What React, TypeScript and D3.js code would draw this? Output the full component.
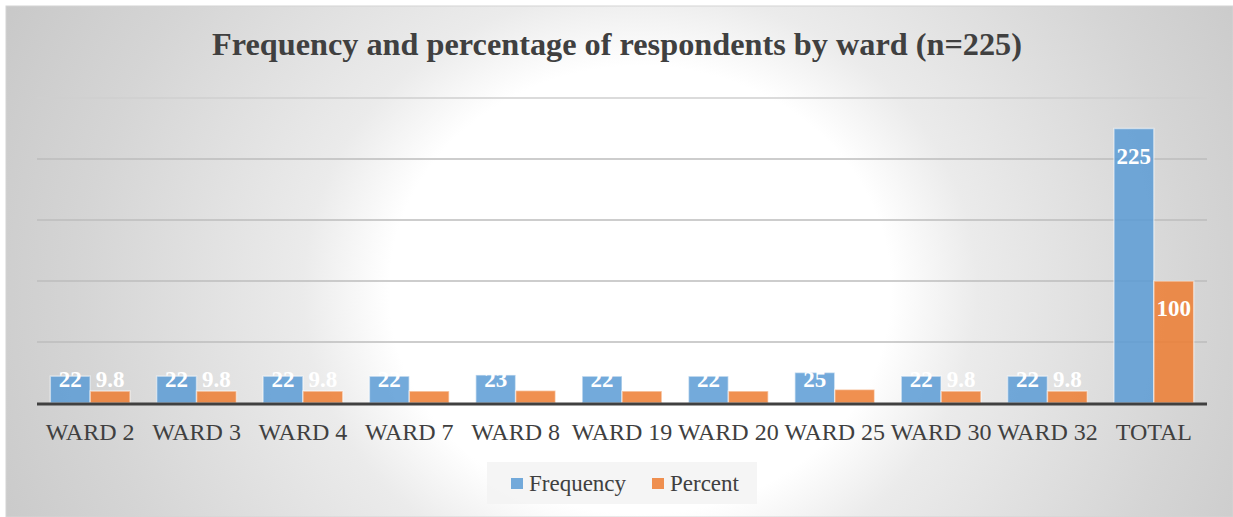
import React from "react";
import * as d3 from "d3";

const categories = ["WARD 2", "WARD 3", "WARD 4", "WARD 7", "WARD 8", "WARD 19", "WARD 20", "WARD 25", "WARD 30", "WARD 32", "TOTAL"];
const frequency = [22, 22, 22, 22, 23, 22, 22, 25, 22, 22, 225];
const percent = [9.8, 9.8, 9.8, 9.8, 10.2, 9.8, 9.8, 11.1, 9.8, 9.8, 100];
const seriesNames = ["Frequency", "Percent"];
const seriesColors = ["#5b9bd5", "#ed7d31"];
const yTicks = [0, 50, 100, 150, 200, 250];
const title = "Frequency and percentage of respondents by ward (n=225)";

const W = 1233;
const H = 517;
const serif = "Liberation Serif, DejaVu Serif, serif";

export default function App() {
  const plotLeft = 37;
  const plotRight = 1207;
  const plotTop = 98;
  const plotBottom = 403;

  const x = d3.scaleBand<string>().domain(categories).range([plotLeft, plotRight]).paddingInner(0.25).paddingOuter(0.125);
  const xs = d3.scaleBand<string>().domain(seriesNames).range([0, x.bandwidth()]).padding(0);
  const y = d3.scaleLinear().domain([0, 250]).range([plotBottom, plotTop]);

  const series = [frequency, percent];

  return (
    <svg width={W} height={H} style={{ position: "absolute", left: 0, top: 0, fontFamily: serif }}>
      <defs>
        <radialGradient
          id="bg"
          gradientUnits="userSpaceOnUse"
          cx={0}
          cy={0}
          r={1.4}
          gradientTransform="translate(640,290) scale(560,500)"
        >
          <stop offset="0" stopColor="#ffffff" />
          <stop offset="0.32" stopColor="#ffffff" />
          <stop offset="0.43" stopColor="#ebebeb" />
          <stop offset="0.71" stopColor="#d5d5d5" />
          <stop offset="1" stopColor="#c2c2c2" />
        </radialGradient>
      </defs>
      <rect x={0} y={0} width={W} height={H} fill="#ffffff" />
      <rect x={6} y={6} width={W - 6} height={H - 6} fill="url(#bg)" stroke="#d4d4d4" strokeWidth={1} />

      <text
        x={617}
        y={55}
        textAnchor="middle"
        fontSize={31}
        fontWeight="bold"
        fill="#404040"
        textLength={810}
        lengthAdjust="spacingAndGlyphs"
        style={{ fontFamily: serif }}
      >
        {title}
      </text>

      {yTicks.slice(1).map((t, i, arr) => (
        <line
          key={t}
          x1={plotLeft}
          x2={plotRight}
          y1={y(t)}
          y2={y(t)}
          stroke={i === arr.length - 1 ? "#cfcfcf" : "#bcbcbc"}
          strokeWidth={1.5}
        />
      ))}

      {categories.map((c, i) => (
        <g key={c} transform={`translate(${x(c)},0)`}>
          {series.map((vals, s) => {
            const v = vals[i];
            const bx = xs(seriesNames[s])!;
            const top = y(v);
            return (
              <g key={s}>
                <rect
                  x={bx}
                  y={top}
                  width={xs.bandwidth()}
                  height={plotBottom - top}
                  fill={seriesColors[s]}
                  fillOpacity={0.85}
                  stroke="#ffffff"
                  strokeOpacity={0.5}
                  strokeWidth={1.5}
                />
                <text
                  x={bx + xs.bandwidth() / 2}
                  y={Math.min(top + 35, 387)}
                  textAnchor="middle"
                  fontSize={23}
                  fontWeight="bold"
                  fill="#ffffff"
                  style={{ fontFamily: serif }}
                >
                  {v}
                </text>
              </g>
            );
          })}
          <text x={x.bandwidth() / 2} y={440} textAnchor="middle" fontSize={24} fill="#404040" style={{ fontFamily: serif }}>
            {c}
          </text>
        </g>
      ))}

      <line x1={plotLeft} x2={plotRight} y1={plotBottom + 1} y2={plotBottom + 1} stroke="#404040" strokeWidth={3} />

      <rect x={487} y={462} width={270} height={42} fill="#f2f2f2" fillOpacity={0.8} />
      {seriesNames.map((name, s) => {
        const lx = s === 0 ? 511 : 652;
        return (
          <g key={name}>
            <rect x={lx} y={478} width={12} height={11} fill={seriesColors[s]} fillOpacity={0.85} />
            <text x={lx + 18} y={491} fontSize={23} fill="#404040" style={{ fontFamily: serif }}>
              {name}
            </text>
          </g>
        );
      })}
    </svg>
  );
}
